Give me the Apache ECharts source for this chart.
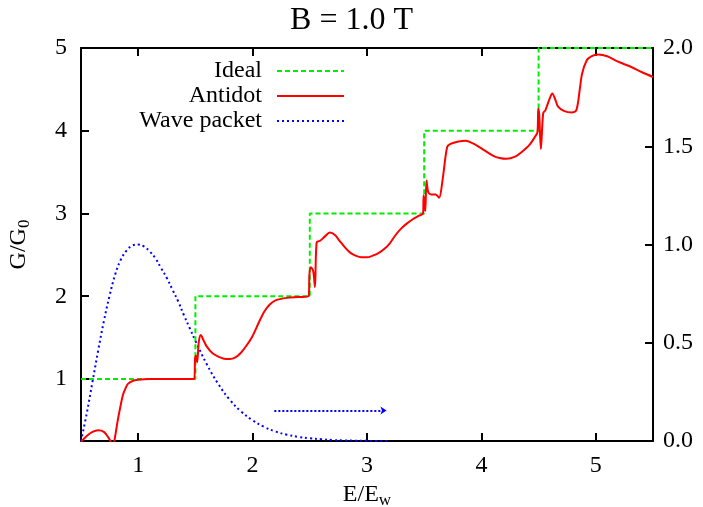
<!DOCTYPE html>
<html>
<head>
<meta charset="utf-8">
<script src="https://cdn.jsdelivr.net/npm/echarts@6/dist/echarts.min.js"></script>
<style>
  html, body { margin: 0; padding: 0; background: #fff; }
</style>
</head>
<body>
<!-- chart container -->
<div id="chart" style="width: 703px; height: 507px"></div>
<script>
// tick labels
var xTicks = [1, 2, 3, 4, 5];
var leftTicks = [1, 2, 3, 4, 5];

// ideal conductance (steps)
var idealX = [0.5, 1.5, 1.5, 2.5, 2.5, 3.5, 3.5, 4.5, 4.5, 5.5];
var idealY = [1, 1, 2, 2, 3, 3, 4, 4, 5, 5];

// antidot conductance
var antidotX = [0.5, 0.55, 0.6, 0.65, 0.7, 0.74, 0.78, 0.8, 0.82, 0.845, 0.867, 0.89, 0.91, 0.95, 1.0, 1.1, 1.3, 1.49,
  1.497, 1.505, 1.515, 1.53, 1.547, 1.57, 1.6, 1.65, 1.7, 1.75, 1.8, 1.85, 1.9, 1.95, 2.0, 2.05, 2.1, 2.15, 2.2, 2.3, 2.4, 2.49,
  2.497, 2.51, 2.53, 2.545, 2.56, 2.59, 2.63, 2.676, 2.72, 2.76, 2.807, 2.85, 2.9, 2.95, 3.0, 3.05, 3.1, 3.15, 3.2, 3.25, 3.3, 3.35, 3.4, 3.45, 3.49,
  3.495, 3.505, 3.51, 3.52, 3.535, 3.56, 3.6, 3.63, 3.66, 3.7, 3.73, 3.8, 3.86, 3.95, 4.03, 4.1, 4.16, 4.22, 4.3, 4.35, 4.42, 4.47, 4.49,
  4.497, 4.505, 4.52, 4.54, 4.56, 4.6, 4.62, 4.65, 4.67, 4.72, 4.79, 4.83, 4.86, 4.88, 4.92, 4.96, 5.02, 5.1, 5.17, 5.24, 5.31, 5.4, 5.5];
var antidotY = [0.24, 0.31, 0.36, 0.38, 0.36, 0.29, 0.2, 0.32, 0.49, 0.67, 0.81, 0.89, 0.94, 0.975, 0.99, 1.0, 1.0, 1.0,
  1.25, 1.28, 1.2, 1.45, 1.53, 1.47, 1.39, 1.31, 1.27, 1.245, 1.24, 1.26, 1.32, 1.41, 1.52, 1.67, 1.81, 1.9, 1.95, 1.98, 1.99, 2.0,
  2.27, 2.35, 2.3, 2.11, 2.65, 2.67, 2.72, 2.77, 2.74, 2.67, 2.59, 2.53, 2.49, 2.47, 2.47, 2.49, 2.52, 2.57, 2.64, 2.74, 2.82, 2.88, 2.93, 2.97, 3.0,
  3.22, 3.1, 3.03, 3.4, 3.26, 3.23, 3.23, 3.19, 3.4, 3.8, 3.84, 3.87, 3.88, 3.83, 3.76, 3.7, 3.67, 3.66, 3.69, 3.74, 3.83, 3.93, 3.98,
  4.27, 4.2, 3.78, 4.21, 4.25, 4.4, 4.45, 4.36, 4.29, 4.24, 4.22, 4.25, 4.5, 4.69, 4.85, 4.9, 4.92, 4.9, 4.85, 4.81, 4.77, 4.71, 4.65];

// wave packet (right axis)
var waveX = [0.5, 0.55, 0.6, 0.65, 0.7, 0.75, 0.8, 0.85, 0.9, 0.95, 1.0, 1.05, 1.1, 1.15, 1.2, 1.25, 1.3, 1.35, 1.4, 1.45, 1.5,
  1.6, 1.7, 1.8, 1.9, 2.0, 2.1, 2.2, 2.3, 2.4, 2.5, 2.6, 2.7, 2.8, 2.9, 3.0, 3.2];
var waveY = [0, 0.14, 0.30, 0.46, 0.61, 0.74, 0.85, 0.925, 0.97, 0.995, 1.0, 0.99, 0.965, 0.93, 0.88, 0.83, 0.77, 0.71, 0.64, 0.575, 0.51,
  0.39, 0.29, 0.21, 0.15, 0.105, 0.072, 0.048, 0.032, 0.021, 0.014, 0.009, 0.005, 0.003, 0.0015, 0.0007, 0];

// arrow (right axis)
var arrowX = [2.19, 3.17];
var arrowY = [0.155, 0.155];

function zip(xs, ys) {
  var out = [];
  for (var i = 0; i < xs.length; i++) {
    out.push([xs[i], ys[i]]);
  }
  return out;
}

var serif = "Liberation Serif";
var chart = echarts.init(document.getElementById("chart"));

chart.setOption({
  animation: false,
  title: {
    text: "B = 1.0 T",
    left: "center",
    top: 0,
    textStyle: { fontFamily: serif, fontSize: 32, fontWeight: "normal", color: "#000" },
  },
  legend: {
    data: ["Ideal", "Antidot", "Wave packet"],
    orient: "vertical",
    align: "right",
    right: 353,
    top: 54,
    itemWidth: 67,
    itemHeight: 14,
    itemGap: 1,
    itemStyle: { opacity: 0 },
    textStyle: { fontFamily: serif, fontSize: 24, color: "#000", padding: [0, 10, 0, 0] },
  },
  grid: {
    left: 81,
    right: 50,
    top: 48,
    bottom: 66,
    outerBoundsMode: "none",
    containLabel: false,
  },
  xAxis: [
    {
      type: "value",
      min: 0.5,
      max: 5.5,
      name: "{a|E/E}{s|w}",
      nameLocation: "middle",
      nameGap: 38,
      nameTextStyle: {
        rich: {
          a: { fontFamily: serif, fontSize: 24, color: "#000" },
          s: { fontFamily: serif, fontSize: 17, color: "#000", verticalAlign: "bottom", padding: [12, 0, 0, 0] },
        },
      },
      axisLine: { lineStyle: { color: "#000", width: 2 } },
      axisTick: { inside: true, length: 8, lineStyle: { color: "#000", width: 2 }, customValues: xTicks },
      axisLabel: { fontFamily: serif, fontSize: 24, color: "#000", margin: 13, customValues: xTicks },
      splitLine: { show: false },
    },
    {
      type: "value",
      position: "top",
      min: 0.5,
      max: 5.5,
      axisLine: { lineStyle: { color: "#000", width: 2 } },
      axisTick: { inside: true, length: 8, lineStyle: { color: "#000", width: 2 }, customValues: xTicks },
      axisLabel: { show: false },
      splitLine: { show: false },
    },
  ],
  yAxis: [
    {
      type: "value",
      min: 0.25,
      max: 5,
      name: "{a|G/G}{s|0}",
      nameLocation: "middle",
      nameGap: 48,
      nameRotate: 90,
      nameTextStyle: {
        rich: {
          a: { fontFamily: serif, fontSize: 24, color: "#000" },
          s: { fontFamily: serif, fontSize: 17, color: "#000", verticalAlign: "bottom", padding: [12, 0, 0, 0] },
        },
      },
      axisLine: { show: true, lineStyle: { color: "#000", width: 2 } },
      axisTick: { show: true, inside: true, length: 8, lineStyle: { color: "#000", width: 2 }, customValues: leftTicks },
      axisLabel: { fontFamily: serif, fontSize: 24, color: "#000", margin: 14, customValues: leftTicks },
      splitLine: { show: false },
    },
    {
      type: "value",
      min: 0,
      max: 2,
      interval: 0.5,
      position: "right",
      axisLine: { show: true, lineStyle: { color: "#000", width: 2 } },
      axisTick: { show: true, inside: true, length: 8, lineStyle: { color: "#000", width: 2 } },
      axisLabel: {
        fontFamily: serif,
        fontSize: 24,
        color: "#000",
        margin: 10,
        formatter: function (v) { return v.toFixed(1); },
      },
      splitLine: { show: false },
    },
  ],
  series: [
    {
      name: "Ideal",
      type: "line",
      yAxisIndex: 0,
      symbol: "none",
      data: zip(idealX, idealY),
      lineStyle: { color: "#00ee00", width: 2, type: [5, 3] },
      itemStyle: { color: "#00ee00" },
      z: 3,
    },
    {
      name: "Antidot",
      type: "line",
      yAxisIndex: 0,
      symbol: "none",
      smooth: 0.3,
      clip: true,
      data: zip(antidotX, antidotY),
      lineStyle: { color: "#ff0000", width: 2 },
      itemStyle: { color: "#ff0000" },
      z: 4,
    },
    {
      name: "Wave packet",
      type: "line",
      yAxisIndex: 1,
      symbol: "none",
      smooth: 0.4,
      data: zip(waveX, waveY),
      lineStyle: { color: "#0000ff", width: 2, type: [2, 3] },
      itemStyle: { color: "#0000ff" },
      z: 2,
    },
    {
      name: "arrow",
      type: "line",
      yAxisIndex: 1,
      symbol: "none",
      data: [],
      markLine: {
        silent: true,
        symbol: ["none", "arrow"],
        symbolSize: [6, 6],
        label: { show: false },
        lineStyle: { color: "#0000ff", width: 2, type: [2, 2] },
        data: [[{ coord: [arrowX[0], arrowY[0]] }, { coord: [arrowX[1], arrowY[1]] }]],
      },
    },
  ],
});
</script>
</body>
</html>
